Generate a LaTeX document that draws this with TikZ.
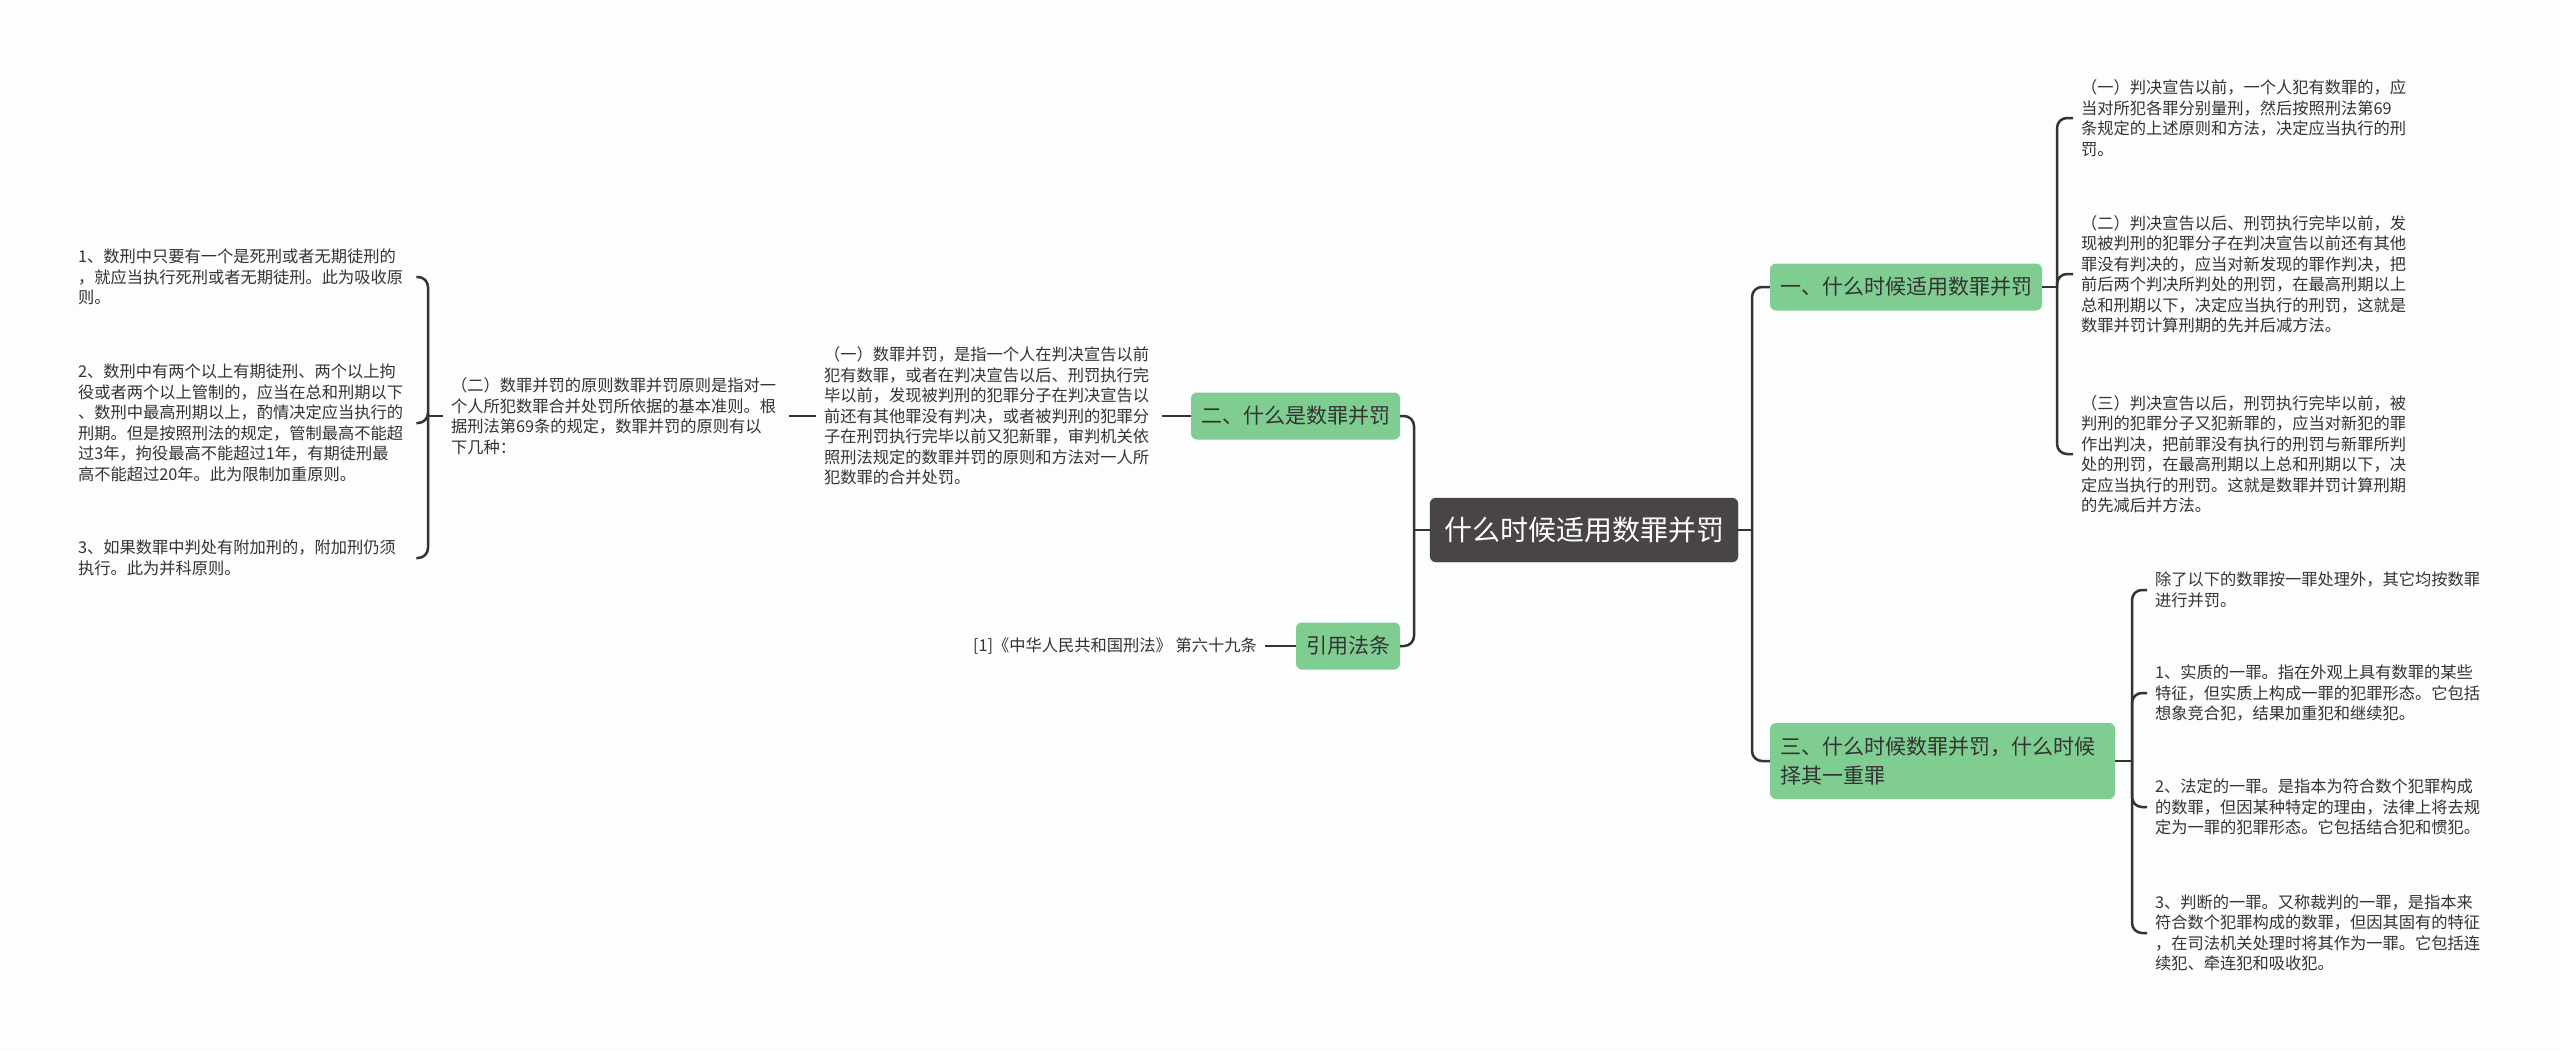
\documentclass[tikz,border=0pt]{standalone}
\usepackage{fontspec}
\setmainfont{Noto Sans CJK SC}
\usepackage{tikz}
\usepackage{xcolor}
\usetikzlibrary{positioning,calc}

\definecolor{mapgreen}{HTML}{7FCD91}
\definecolor{mapdark}{HTML}{4A4545}
\definecolor{mapline}{HTML}{333333}
\definecolor{maptext}{HTML}{333333}
\definecolor{mapbg}{HTML}{FBFDFE}

\begin{document}
\begin{tikzpicture}[x=1pt, y=-1pt,
        topic/.style={rectangle, rounded corners=6pt, fill=mapdark, draw=mapdark!85!black, text=white,
                      font=\fontsize{28pt}{34pt}\selectfont, inner xsep=14pt, inner ysep=0pt,
                      minimum height=64pt},
        branch/.style={rectangle, rounded corners=6pt, fill=mapgreen, text=maptext,
                       font=\fontsize{21pt}{29pt}\selectfont, inner xsep=10pt, inner ysep=0pt,
                       minimum height=47pt},
        leaf/.style={align=left, text width=330pt, inner xsep=8pt, inner ysep=2pt, text=maptext,
                     font=\fontsize{16.25pt}{20.5pt}\selectfont},
        line/.style={draw=mapline, line width=2.5pt, rounded corners=10pt}
    ]
        \useasboundingbox[fill=mapbg] (0,0) rectangle (2560,1053);

        % Root
        \node[topic] (root) at (1584,530) {什么时候适用数罪并罚};

        % Branches
        \node[branch] (sec1) at (1906,287) {一、什么时候适用数罪并罚};
        \node[branch] (sec2) at (1295.5,416) {二、什么是数罪并罚};
        \node[branch] (cite) at (1348,646) {引用法条};
        \node[branch, text width=325pt, align=left, minimum height=76pt] (sec3) at (1942.5,761)
            {三、什么时候数罪并罚，什么时候\\择其一重罪};

        % Leaves of sec1
        \node[leaf, anchor=west] (p1) at (2073,118)
            {（一）判决宣告以前，一个人犯有数罪的，应\\当对所犯各罪分别量刑，然后按照刑法第69\\条规定的上述原则和方法，决定应当执行的刑\\罚。};
        \node[leaf, anchor=west] (p2) at (2073,274)
            {（二）判决宣告以后、刑罚执行完毕以前，发\\现被判刑的犯罪分子在判决宣告以前还有其他\\罪没有判决的，应当对新发现的罪作判决，把\\前后两个判决所判处的刑罚，在最高刑期以上\\总和刑期以下，决定应当执行的刑罚，这就是\\数罪并罚计算刑期的先并后减方法。};
        \node[leaf, anchor=west] (p3) at (2073,454)
            {（三）判决宣告以后，刑罚执行完毕以前，被\\判刑的犯罪分子又犯新罪的，应当对新犯的罪\\作出判决，把前罪没有执行的刑罚与新罪所判\\处的刑罚，在最高刑期以上总和刑期以下，决\\定应当执行的刑罚。这就是数罪并罚计算刑期\\的先减后并方法。};

        % Leaves of sec3
        \node[leaf, anchor=west] (q0) at (2147,590)
            {除了以下的数罪按一罪处理外，其它均按数罪\\进行并罚。};
        \node[leaf, anchor=west] (q1) at (2147,693)
            {1、实质的一罪。指在外观上具有数罪的某些\\特征，但实质上构成一罪的犯罪形态。它包括\\想象竞合犯，结果加重犯和继续犯。};
        \node[leaf, anchor=west] (q2) at (2147,807)
            {2、法定的一罪。是指本为符合数个犯罪构成\\的数罪，但因某种特定的理由，法律上将去规\\定为一罪的犯罪形态。它包括结合犯和惯犯。};
        \node[leaf, anchor=west] (q3) at (2147,933)
            {3、判断的一罪。又称裁判的一罪，是指本来\\符合数个犯罪构成的数罪，但因其固有的特征\\，在司法机关处理时将其作为一罪。它包括连\\续犯、牵连犯和吸收犯。};

        % Chain of sec2
        \node[leaf, anchor=west] (def1) at (816,416)
            {（一）数罪并罚，是指一个人在判决宣告以前\\犯有数罪，或者在判决宣告以后、刑罚执行完\\毕以前，发现被判刑的犯罪分子在判决宣告以\\前还有其他罪没有判决，或者被判刑的犯罪分\\子在刑罚执行完毕以前又犯新罪，审判机关依\\照刑法规定的数罪并罚的原则和方法对一人所\\犯数罪的合并处罚。};
        \node[leaf, anchor=west] (def2) at (443,416)
            {（二）数罪并罚的原则数罪并罚原则是指对一\\个人所犯数罪合并处罚所依据的基本准则。根\\据刑法第69条的规定，数罪并罚的原则有以\\下几种：};
        \node[leaf, anchor=west] (r1) at (70,277)
            {1、数刑中只要有一个是死刑或者无期徒刑的\\，就应当执行死刑或者无期徒刑。此为吸收原\\则。};
        \node[leaf, anchor=west] (r2) at (70,423)
            {2、数刑中有两个以上有期徒刑、两个以上拘\\役或者两个以上管制的，应当在总和刑期以下\\、数刑中最高刑期以上，酌情决定应当执行的\\刑期。但是按照刑法的规定，管制最高不能超\\过3年，拘役最高不能超过1年，有期徒刑最\\高不能超过20年。此为限制加重原则。};
        \node[leaf, anchor=west] (r3) at (70,558)
            {3、如果数罪中判处有附加刑的，附加刑仍须\\执行。此为并科原则。};

        % Citation
        \node[leaf, text width=, anchor=east] (law) at (1265,646)
            {[1]《中华人民共和国刑法》 第六十九条};

        % Root connectors
        \draw[line] (root.west) -- (1414,530) coordinate (jl);
        \draw[line] (jl) |- (sec2.east);
        \draw[line] (jl) |- (cite.east);
        \draw[line] (root.east) -- (1752,530) coordinate (jr);
        \draw[line] (jr) |- (sec1.west);
        \draw[line] (jr) |- (sec3.west);

        % sec1 bracket
        \draw[line] (sec1.east) -- (2057,287) coordinate (j1);
        \draw[line] (j1) |- (p1.west);
        \draw[line] (j1) |- (p2.west);
        \draw[line] (j1) |- (p3.west);

        % sec3 bracket
        \draw[line] (sec3.east) -- (2132,761) coordinate (j3);
        \draw[line] (j3) |- (q0.west);
        \draw[line] (j3) |- (q1.west);
        \draw[line] (j3) |- (q2.west);
        \draw[line] (j3) |- (q3.west);

        % sec2 chain
        \draw[line] (sec2.west) -- (def1.east);
        \draw[line] (def1.west) -- (def2.east);
        \draw[line] (def2.west) -- (428,416) coordinate (j2);
        \draw[line] (j2) |- (r1.east);
        \draw[line] (j2) |- (r2.east);
        \draw[line] (j2) |- (r3.east);

        % Citation link
        \draw[line] (cite.west) -- (law.east);
    \end{tikzpicture}
\end{document}
